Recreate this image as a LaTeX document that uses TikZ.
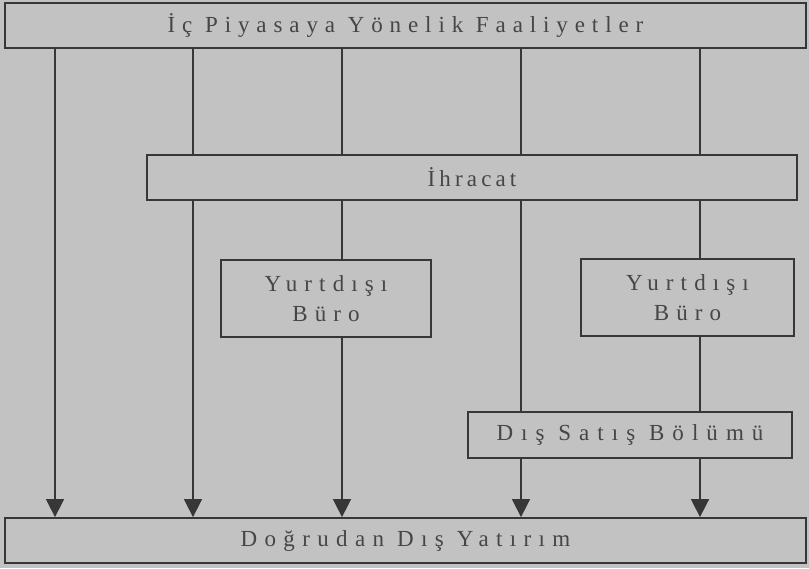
\documentclass[tikz,border=0pt]{standalone}
\usepackage{fontspec}
\setmainfont{Liberation Serif}
\usetikzlibrary{arrows.meta}
\definecolor{bg}{RGB}{194,194,194}
\definecolor{ln}{RGB}{55,55,55}
\definecolor{tx}{RGB}{70,70,70}
\newcommand{\lsfont}[1]{\fontsize{23}{30}\selectfont\addfontfeatures{LetterSpace=#1}}
\begin{document}
\begin{tikzpicture}[x=1pt,y=-1pt,
  box/.style={draw=ln, line width=1.8pt, fill=bg, text=tx, inner sep=0pt,
    font=\lsfont{30}},
  conn/.style={draw=ln, line width=1.6pt},
  arr/.style={conn, -{Triangle[width=18pt,length=18pt]}}]
\useasboundingbox (0,0) rectangle (809,568);
\fill[bg] (0,0) rectangle (809,568);
\node[box, minimum width=801pt, minimum height=45pt] (top) at (405.5,25.5) {İç Piyasaya Yönelik Faaliyetler};
\node[box, minimum width=650pt, minimum height=45pt, font=\lsfont{18}] (ihr) at (472,177.5) {İhracat};
\node[box, minimum width=210pt, minimum height=77pt, align=center, font=\lsfont{31}] (bl) at (326,298.5) {Yurtdışı\\Büro};
\node[box, minimum width=213pt, minimum height=77pt, align=center, font=\lsfont{31}] (br) at (687.5,297.5) {Yurtdışı\\Büro};
\node[box, minimum width=324pt, minimum height=46pt, font=\lsfont{35}] (dis) at (630,435) {Dış Satış Bölümü};
\node[box, minimum width=801pt, minimum height=45pt, font=\lsfont{32}] (bot) at (405.5,540.5) {Doğrudan Dış Yatırım};
\coordinate (c1) at (55,0);
\coordinate (c2) at (193,0);
\coordinate (c3) at (342,0);
\coordinate (c4) at (521,0);
\coordinate (c5) at (700,0);
% column 1
\draw[arr] (top.south -| c1) -- (bot.north -| c1);
% column 2
\draw[conn] (top.south -| c2) -- (ihr.north -| c2);
\draw[arr] (ihr.south -| c2) -- (bot.north -| c2);
% column 3
\draw[conn] (top.south -| c3) -- (ihr.north -| c3);
\draw[conn] (ihr.south -| c3) -- (bl.north -| c3);
\draw[arr] (bl.south -| c3) -- (bot.north -| c3);
% column 4
\draw[conn] (top.south -| c4) -- (ihr.north -| c4);
\draw[conn] (ihr.south -| c4) -- (dis.north -| c4);
\draw[arr] (dis.south -| c4) -- (bot.north -| c4);
% column 5
\draw[conn] (top.south -| c5) -- (ihr.north -| c5);
\draw[conn] (ihr.south -| c5) -- (br.north -| c5);
\draw[conn] (br.south -| c5) -- (dis.north -| c5);
\draw[arr] (dis.south -| c5) -- (bot.north -| c5);
\end{tikzpicture}
\end{document}
